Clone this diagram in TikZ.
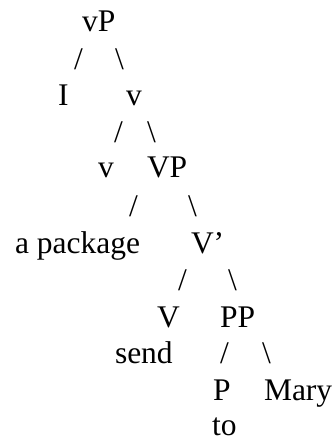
\documentclass[tikz,border=0pt]{standalone}
\usepackage{fontspec}
\setmainfont{Liberation Serif}
\begin{document}
\begin{tikzpicture}[x=1pt,y=1pt,
  lbl/.style={anchor=base west, inner sep=0pt, outer sep=0pt, text depth=0pt, font=\fontsize{31.5}{36}\selectfont},
  br/.style={lbl}]
\useasboundingbox (0,0) rectangle (332,-438);
% row 1
\node[lbl] (vP) at (82,-32) {vP};
% row 2
\node[br] (s1l) at (74,-70) {/};
\node[br] (s1r) at (115,-70) {\textbackslash};
% row 3
\node[lbl] (I) at (58,-106) {I};
\node[lbl] (vbar) at (126,-106) {v};
% row 4
\node[br] (s2l) at (114,-143) {/};
\node[br] (s2r) at (147,-143) {\textbackslash};
% row 5
\node[lbl] (v) at (98,-178) {v};
\node[lbl] (VP) at (147,-178) {VP};
% row 6
\node[br] (s3l) at (129,-216) {/};
\node[br] (s3r) at (188,-216) {\textbackslash};
% row 7
\node[lbl] (pkg) at (15,-253) {a package};
\node[lbl] (Vbar) at (191,-253) {V’};
% row 8
\node[br] (s4l) at (178,-290) {/};
\node[br] (s4r) at (228,-290) {\textbackslash};
% row 9
\node[lbl] (V) at (157,-327) {V};
\node[lbl] (PP) at (220,-327) {PP};
% row 10
\node[lbl] (send) at (115,-363) {send};
\node[br] (s5l) at (220,-363) {/};
\node[br] (s5r) at (262,-363) {\textbackslash};
% row 11
\node[lbl] (P) at (213,-400) {P};
\node[lbl] (Mary) at (264,-400) {Mary};
% row 12
\node[lbl] (to) at (212,-435) {to};
\end{tikzpicture}
\end{document}
